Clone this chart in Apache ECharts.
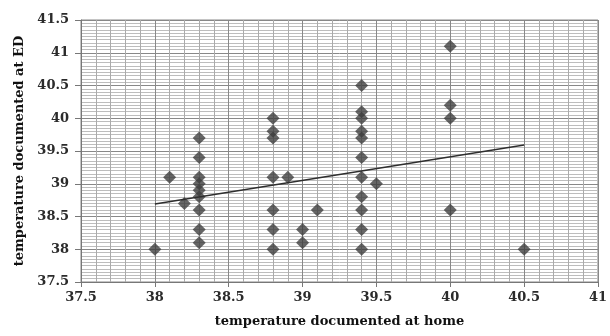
<!DOCTYPE html>
<html>
<head>
<meta charset="utf-8">
<script src="https://cdn.jsdelivr.net/npm/echarts@6/dist/echarts.min.js"></script>
<style>
  html, body { margin: 0; padding: 0; background: #fff; }
  #chart { width: 610px; height: 336px; }
</style>
</head>
<body>
<div id="chart"></div>
<script>
// temperatures: home (x) vs ED (y)
const homeTemps = [
    38.0, 38.1, 38.2,
    38.3, 38.3, 38.3, 38.3, 38.3, 38.3, 38.3, 38.3, 38.3,
    38.8, 38.8, 38.8, 38.8, 38.8, 38.8, 38.8,
    38.9, 39.0, 39.0, 39.1,
    39.4, 39.4, 39.4, 39.4, 39.4, 39.4, 39.4, 39.4, 39.4, 39.4, 39.4,
    39.5, 40.0, 40.0, 40.0, 40.0, 40.5
];
const edTemps = [
    38.0, 39.1, 38.7,
    39.7, 39.4, 39.1, 39.0, 38.9, 38.8, 38.6, 38.3, 38.1,
    40.0, 39.8, 39.7, 39.1, 38.6, 38.3, 38.0,
    39.1, 38.3, 38.1, 38.6,
    40.5, 40.1, 40.0, 39.8, 39.7, 39.4, 39.1, 38.8, 38.6, 38.3, 38.0,
    39.0, 41.1, 40.2, 40.0, 38.6, 38.0
];

// trend line end points as drawn
const trendX = [38.0, 40.5];
const trendY = [38.69, 39.59];

const xTitle = "temperature documented at home";
const yTitle = "temperature documented at ED";

const points = homeTemps.map((x, i) => [x, edTemps[i]]);
const trend = trendX.map((x, i) => [x, trendY[i]]);

const labelFont = {
    fontFamily: "DejaVu Serif",
    fontSize: 13,
    fontWeight: "bold",
    color: "#2b2b2b",
};
const titleFont = {
    fontFamily: "DejaVu Serif",
    fontSize: 13,
    fontWeight: "bold",
    color: "#111",
};

const chart = echarts.init(document.getElementById("chart"));

chart.setOption({
    animation: false,
    backgroundColor: "#fff",
    grid: {
        left: 81,
        right: 10,
        top: 20,
        bottom: 54,
        show: true,
        borderColor: "#888",
        borderWidth: 1,
    },
    xAxis: {
        type: "value",
        min: 37.5,
        max: 41,
        interval: 0.5,
        name: xTitle,
        nameLocation: "middle",
        nameGap: 33,
        nameTextStyle: titleFont,
        axisLine: { show: true, lineStyle: { color: "#777" } },
        axisTick: { show: true, length: 5, lineStyle: { color: "#777" } },
        axisLabel: Object.assign({ margin: 9 }, labelFont),
        splitLine: { show: true, lineStyle: { color: "#888", width: 1 } },
        minorTick: { show: false, splitNumber: 5 },
        minorSplitLine: { show: true, lineStyle: { color: "#aaa", width: 1 } },
    },
    yAxis: {
        type: "value",
        min: 37.5,
        max: 41.5,
        interval: 0.5,
        name: yTitle,
        nameLocation: "middle",
        nameGap: 52,
        nameTextStyle: titleFont,
        axisLine: { show: true, lineStyle: { color: "#777" } },
        axisTick: { show: true, length: 6, lineStyle: { color: "#777" } },
        axisLabel: Object.assign({ margin: 12 }, labelFont),
        splitLine: { show: true, lineStyle: { color: "#888", width: 1 } },
        minorTick: { show: false, splitNumber: 10 },
        minorSplitLine: { show: true, lineStyle: { color: "#bdbdbd", width: 1 } },
    },
    series: [
        {
            type: "scatter",
            data: points,
            symbol: "diamond",
            symbolSize: 13,
            itemStyle: { color: "#3f3f3f" },
            z: 3,
        },
        {
            type: "line",
            data: trend,
            symbol: "none",
            lineStyle: { color: "#2e2e2e", width: 1.5 },
            z: 4,
        },
    ],
});
</script>
</body>
</html>
